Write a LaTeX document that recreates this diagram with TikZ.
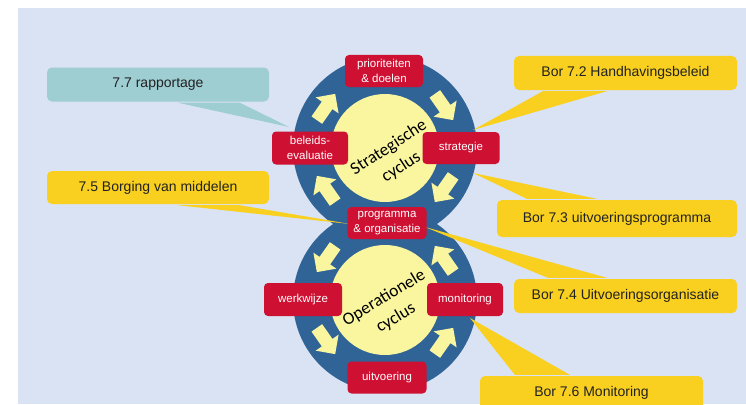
\documentclass[tikz,border=0pt]{standalone}
\usepackage{fontspec}
\setmainfont{Liberation Sans}
\newfontfamily\carl{Carlito}
\usetikzlibrary{calc}
\definecolor{bgblue}{RGB}{218,227,243}
\definecolor{ringblue}{RGB}{48,99,150}
\definecolor{cyellow}{RGB}{250,246,160}
\definecolor{cred}{RGB}{206,16,50}
\definecolor{coyellow}{RGB}{249,208,32}
\definecolor{coteal}{RGB}{158,205,210}
\definecolor{ctext}{RGB}{34,34,34}
\begin{document}
\begin{tikzpicture}[x=1pt,y=-1pt,
  redbox/.style={fill=cred, rounded corners=4pt, text=white, font=\fontsize{11.5}{15}\selectfont, align=center, inner sep=0pt, minimum height=32pt, minimum width=78pt},
  callout/.style={rounded corners=5pt, text=ctext, font=\fontsize{14}{16}\selectfont, inner sep=0pt, minimum height=34pt},
  cyctext/.style={font=\carl\fontsize{17.5}{23}\selectfont, align=center, text=black},
  blockarrow/.style={fill=cyellow}]
\clip (0,0) rectangle (746,404);
\fill[white] (0,0) rectangle (746,404);
\fill[bgblue] (18,8) rectangle (746,404);
% circles
\coordinate (ts) at (385,148);
\coordinate (os) at (385,300);
\fill[ringblue] (os) circle[radius=92pt];
\fill[ringblue] (ts) circle[radius=92pt];
\fill[cyellow] (ts) circle[radius=54pt];
\fill[cyellow] (os) circle[radius=55pt];
% block arrows
\foreach \p/\a in {{326,107}/55, {444,107}/-55, {444,189}/-125, {326,189}/125,
                   {326,259}/-125, {326,341}/-55, {444,341}/55, {444,259}/125} {
  \fill[blockarrow, shift={(\p)}, rotate=\a]
    (-16,-6.5) -- (2,-6.5) -- (2,-14) -- (16,0) -- (2,14) -- (2,6.5) -- (-16,6.5) -- cycle;
}
% cycle texts
\node[cyctext, rotate=33] (tst) at (395,157.5) {Strategische\\cyclus};
\node[cyctext, rotate=31] (tos) at (390,308) {Operationele\\cyclus};
% tip coordinates
\coordinate (t77) at (289,127);
\coordinate (t75) at (350,224);
\coordinate (t72) at (473,130);
\coordinate (t73) at (473,173);
\coordinate (t74) at (425,227);
\coordinate (t76) at (470,318);
% callouts
\node[callout, fill=coteal, minimum width=222pt] (c77) at (158,84.5) {7.7 rapportage};
\fill[coteal] ($(c77.south west)+(131,1)$) -- (t77) -- ($(c77.south west)+(193,1)$) -- cycle;
\node[callout, fill=coyellow, minimum width=222pt, minimum height=33pt] (c75) at (158,187.5) {7.5 Borging van middelen};
\fill[coyellow] ($(c75.south west)+(131,1)$) -- (t75) -- ($(c75.south west)+(193,1)$) -- cycle;
\node[callout, fill=coyellow, minimum width=223pt] (c72) at (625.5,73) {Bor 7.2 Handhavingsbeleid};
\fill[coyellow] ($(c72.south west)+(29,1)$) -- (t72) -- ($(c72.south west)+(93,1)$) -- cycle;
\node[callout, fill=coyellow, minimum width=240pt, minimum height=37pt] (c73) at (617,218.5) {Bor 7.3 uitvoeringsprogramma};
\fill[coyellow] ($(c73.north west)+(30,-1)$) -- (t73) -- ($(c73.north west)+(100,-1)$) -- cycle;
\node[callout, fill=coyellow, minimum width=223pt] (c74) at (625.5,296) {Bor 7.4 Uitvoeringsorganisatie};
\fill[coyellow] ($(c74.north west)+(34,-1)$) -- (t74) -- ($(c74.north west)+(93,-1)$) -- cycle;
\node[callout, fill=coyellow, minimum width=223pt] (c76) at (591.5,393) {Bor 7.6 Monitoring};
\fill[coyellow] ($(c76.north west)+(35,-1)$) -- (t76) -- ($(c76.north west)+(90,-1)$) -- cycle;
% red boxes
\node[redbox] (pd) at (384,71) {prioriteiten\\\& doelen};
\node[redbox, minimum width=76pt, minimum height=33pt] (be) at (310,148) {beleids-\\evaluatie};
\node[redbox, minimum width=77pt] (st) at (461,148) {strategie};
\node[redbox, minimum width=79pt] (po) at (387,223) {programma\\\& organisatie};
\node[redbox, minimum height=33pt] (ww) at (303,299.5) {werkwijze};
\node[redbox, minimum width=76pt, minimum height=33pt] (mo) at (465,299.5) {monitoring};
\node[redbox, minimum width=79pt] (uv) at (387,377.5) {uitvoering};
\end{tikzpicture}
\end{document}
